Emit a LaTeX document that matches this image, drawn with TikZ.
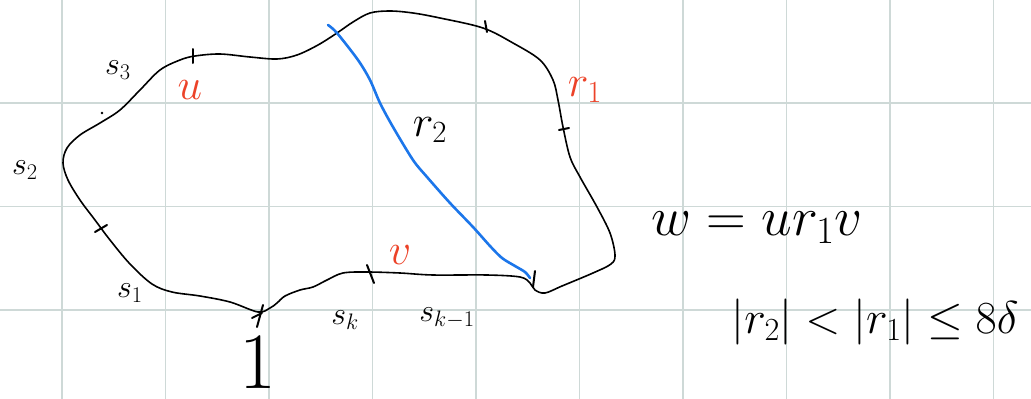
\RequirePackage{fix-cm}
\documentclass[tikz,border=0pt]{standalone}
\usepackage{amsmath,amssymb}
\usepackage{xcolor}
\usepackage{tikz}
\usetikzlibrary{calc}
\definecolor{gridteal}{RGB}{206,217,215}
\definecolor{inkred}{RGB}{236,66,40}
\definecolor{inkblue}{RGB}{28,118,234}
\tikzset{
  gridline/.style={line width=1.1pt,draw=gridteal},
  boundary/.style={line width=1.6pt,draw=black,line join=round},
  geodesic/.style={line width=2.6pt,draw=inkblue,line cap=round,line join=round},
  tickmark/.style={line width=2pt,line cap=round},
  seglabel/.style={font=\fontsize{32}{36}\selectfont},
  redlabel/.style={text=inkred,font=\fontsize{44}{48}\selectfont},
  blacklabel/.style={font=\fontsize{44}{48}\selectfont}
}

\begin{document}
\begin{tikzpicture}[x=1pt,y=-1pt]
  \useasboundingbox (0,0) rectangle (1031,399);

  % squared paper
  \foreach \gx in {0,...,9}{
    \draw[gridline] ({62+103.5*\gx},0) -- ({62+103.5*\gx},399);
  }
  \foreach \gy in {103,206.5,310}{
    \draw[gridline] (0,\gy) -- (1031,\gy);
  }

  \coordinate (base) at (258,312);
  \coordinate (gstart) at (328,25);
  \coordinate (gend) at (530,278);

  % the loop
  \draw[boundary] plot[smooth cycle,tension=0.55] coordinates {
    (base) (230,302) (200,296) (172,292) (152,284) (130,264) (110,240)
    (95,220) (80,200) (68,180) (63,163) (67,148) (80,135) (100,123)
    (120,110) (140,90) (160,70) (180,60) (195,56) (220,54) (250,57)
    (277,59) (297,55) (318,45) (337,33) (353,22) (370,13) (390,11)
    (413,13) (440,18) (483,28) (513,43) (540,60) (553,80) (558,100)
    (563,127) (570,157) (580,177) (597,207) (610,233) (615,255)
    (611,264) (593,273) (562,286) (545,293) (535,290) (530,283)
    (520,277) (487,275) (433,275) (400,273) (367,272) (343,273)
    (327,280) (313,287) (300,290) (285,296) (277,303) (270,308)};

  % blue path r_2
  \draw[geodesic] plot[smooth,tension=0.5] coordinates {
    (gstart) (337,33) (358,60) (370,80) (380,103) (393,127) (413,160)
    (427,177) (450,203) (473,227) (490,246) (502,258) (515,266)
    (525,272) (gend)};

  % ticks along the loop
  \foreach \tx/\ty/\dx/\dy in {95/232/12/-7, 193/49/0/14, 485/21/2/11,
      559/130/10/-2, 367/265/7/18, 535/271/-2/16, 263/305/-6/22,
      252/318/10/-5}{
    \draw[tickmark] (\tx,\ty) -- ++(\dx,\dy);
  }
  \fill (102,113) circle (1.3pt);

  \node[seglabel] (s1) at (130,293) {$s_1$};
  \node[seglabel] (s2) at (25,170) {$s_2$};
  \node[seglabel] (s3) at (118,70) {$s_3$};
  \node[seglabel] (sk) at (345,320) {$s_k$};
  \node[seglabel] (skm) at (447,318) {$s_{k-1}$};

  \node[redlabel] (u) at (190,90) {$u$};
  \node[redlabel] (v) at (400,255) {$v$};
  \node[redlabel] (r1) at (585,90) {$r_1$};
  \node[blacklabel] (r2) at (430,130) {$r_2$};

  \node[font=\fontsize{80}{84}\selectfont,inner sep=0pt,anchor=base]
    (one) at (258,388) {1};

  \node[font=\fontsize{55}{60}\selectfont] (weq) at (757,228) {$w = u r_1 v$};
  \node[font=\fontsize{46}{50}\selectfont] (bound) at (875,322)
    {$|r_2| < |r_1| \le 8\delta$};
\end{tikzpicture}
\end{document}
